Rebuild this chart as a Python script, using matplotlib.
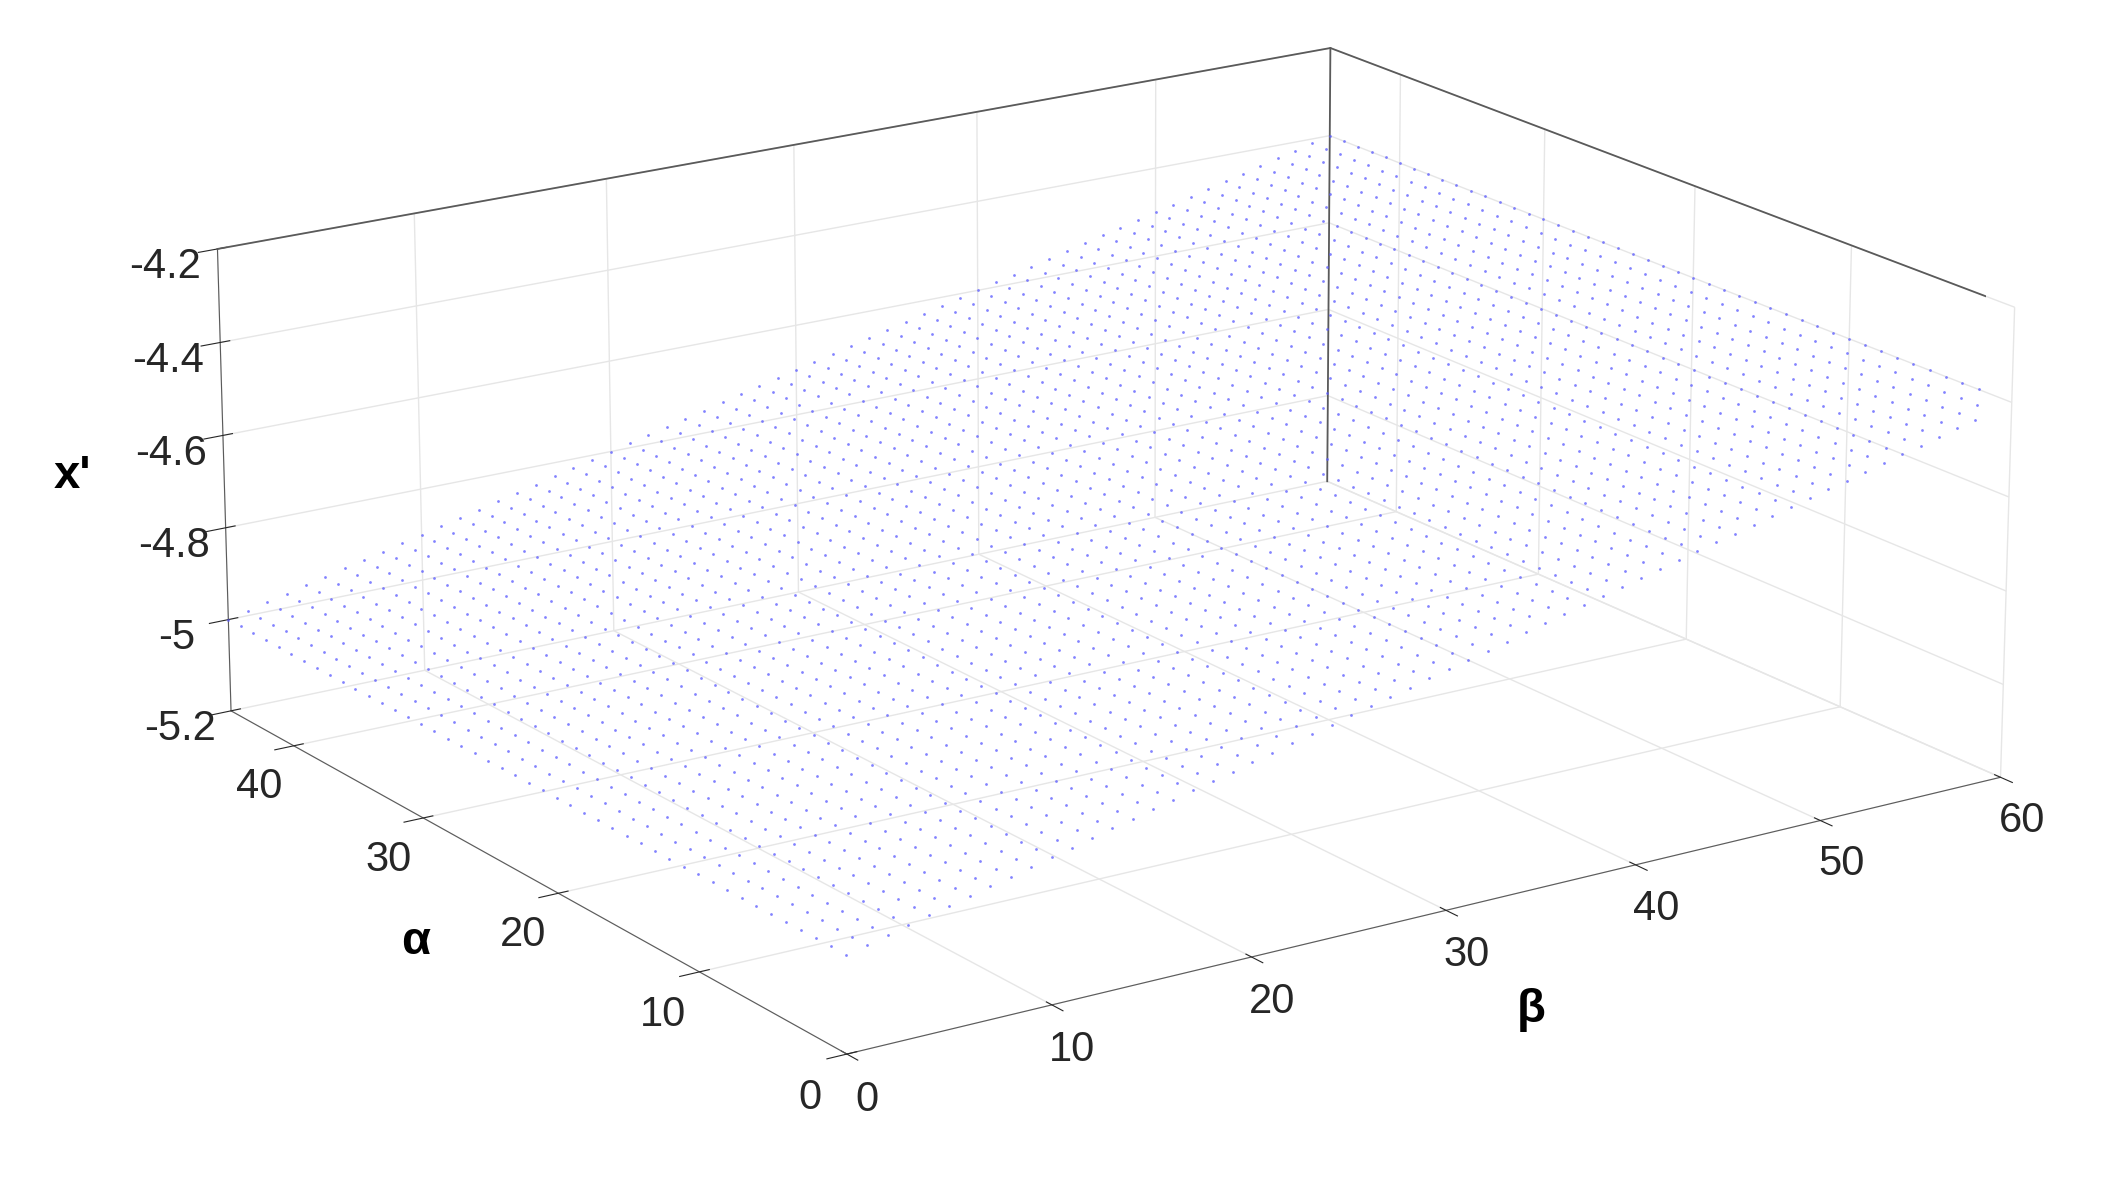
import numpy as np
import matplotlib.pyplot as plt

plt.rcParams['font.family'] = ['Liberation Sans', 'DejaVu Sans']

# Surface samples (plane): x' varies with beta only
beta_knots = [0, 10, 20, 30, 40, 50, 60]
z_knots = [-5.0, -4.9, -4.8, -4.7, -4.6, -4.5, -4.4]
alpha_vals = np.arange(0, 46, 1.0)
beta_vals = np.arange(0, 61, 1.0)

alpha_ticks = [0, 10, 20, 30, 40]
beta_ticks = [0, 10, 20, 30, 40, 50, 60]
z_ticks = [-5.2, -5.0, -4.8, -4.6, -4.4, -4.2]
z_labels = ['-5.2', '-5', '-4.8', '-4.6', '-4.4', '-4.2']

B, A = np.meshgrid(beta_vals, alpha_vals)
Z = np.interp(B, beta_knots, z_knots)

fig = plt.figure(figsize=(21.23, 11.88), dpi=100)
ax = fig.add_axes([-0.155, -0.212, 1.33, 1.52], projection='3d')
ax.scatter(B.ravel(), A.ravel(), Z.ravel(), s=4, c='#5a5aff', alpha=0.75,
           linewidths=0, depthshade=False)

xl, yl, zl = (0, 60), (0, 45), (-5.2, -4.2)
ax.set_xlim(*xl)
ax.set_ylim(*yl)
ax.set_zlim(*zl)

# box outline: top back edges and back vertical edge
edge = dict(color='#5a5a5a', linewidth=1.3)
ax.plot([xl[0], xl[1], xl[1]], [yl[1], yl[1], yl[0]], [zl[1]] * 3, **edge)
ax.plot([xl[1], xl[1]], [yl[1], yl[1]], zl, **edge)

ax.set_xticks(beta_ticks)
ax.set_yticks(alpha_ticks)
ax.set_zticks(z_ticks)
ax.set_zticklabels(z_labels)
ax.tick_params(labelsize=30, colors='#262626', pad=12)
ax.set_xlabel('β', fontsize=34, fontweight='bold', labelpad=60)
ax.set_ylabel('α', fontsize=34, fontweight='bold', labelpad=40)
ax.set_zlabel("x'", fontsize=34, fontweight='bold', labelpad=38)
ax.view_init(elev=18, azim=-124)
ax.set_box_aspect((1.7, 1.45, 0.61))
for a in (ax.xaxis, ax.yaxis, ax.zaxis):
    a.set_pane_color((1, 1, 1, 0))
    a.pane.set_edgecolor('#5a5a5a')
    a.line.set_color('#5a5a5a')
    a._axinfo['grid']['color'] = (0.9, 0.9, 0.9, 1)
    a._axinfo['grid']['linewidth'] = 1.0

fig.savefig('out.png', dpi=100)
